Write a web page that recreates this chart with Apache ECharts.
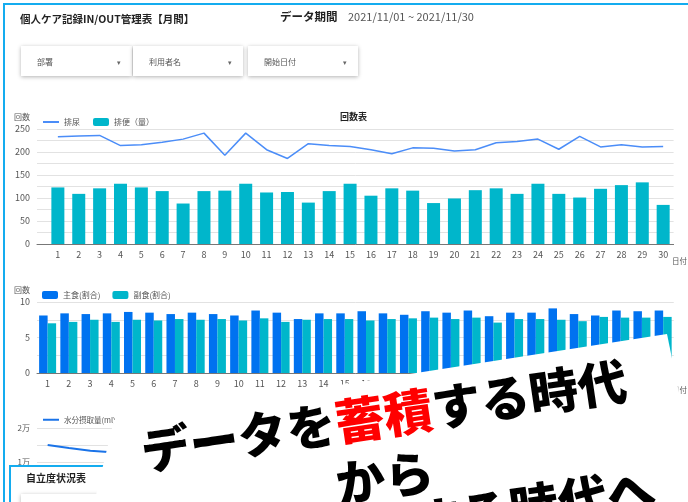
<!DOCTYPE html>
<html>
<head>
<meta charset="utf-8">
<script src="https://cdn.jsdelivr.net/npm/echarts@6/dist/echarts.min.js"></script>
<style>
  html, body { margin: 0; padding: 0; background: #fff; }
  #main { width: 688px; height: 502px; }
</style>
</head>
<body>
<div id="main"></div>
<script>
// 日付（1〜30日）
const days = ['1','2','3','4','5','6','7','8','9','10','11','12','13','14','15',
  '16','17','18','19','20','21','22','23','24','25','26','27','28','29','30'];
// 回数表
const urine = [233,235,236,214,216,221,228,241,193,241,205,186,218,214,212,
  205,196,209,208,202,205,220,223,228,206,234,211,216,211,212];
const stool = [123,109,121,131,123,115,88,115,116,131,112,113,90,115,131,
  105,121,116,89,99,117,121,109,131,109,101,120,128,134,85];
// 主食・副食（割合）
const mainFood = [8.1,8.4,8.3,8.4,8.6,8.5,8.3,8.5,8.3,8.1,8.8,8.5,7.6,8.4,8.4,
  8.7,8.4,8.2,8.7,8.5,8.8,8.0,8.5,8.5,9.1,8.3,8.1,8.8,8.7,8.8];
const sideFood = [7.0,7.2,7.5,7.2,7.5,7.4,7.6,7.5,7.6,7.4,7.7,7.2,7.5,7.6,7.6,
  7.4,7.6,7.7,7.8,7.6,7.8,7.1,7.6,7.6,7.5,7.3,7.9,7.8,7.8,7.9];
// 水分摂取量（見えている部分のみ）
const water = [15000,14100,13300,12900];

const FONT = '"Noto Sans CJK JP", "Noto Sans", sans-serif';
const BORDER = '#14acef';
const labelGray = '#555';

const chart = echarts.init(document.getElementById('main'));

// 日付を数値位置に（回数表は value 軸）
const pos = days.map(d => Number(d));

function txt(x, y, text, size, opts) {
  opts = opts || {};
  return {
    type: 'text', x: x, y: y, z: opts.z || 60,
    style: {
      text: text,
      font: (opts.weight || 'normal') + ' ' + size + 'px ' + FONT,
      fill: opts.color || '#222',
      textAlign: opts.align || 'left', align: opts.align || 'left',
      textVerticalAlign: 'middle', verticalAlign: 'middle'
    }
  };
}

function dropBox(x, w, label) {
  return [
    { type: 'rect', z: 40, shape: { x: x, y: 46, width: w, height: 30 },
      style: { fill: '#fff', shadowBlur: 4, shadowColor: 'rgba(0,0,0,0.3)', shadowOffsetY: 1 } },
    txt(x + 16, 62, label, 8, { color: '#555' }),
    txt(x + w - 15, 62, '▾', 7, { color: '#666' })
  ];
}

// 斜めの白いパネルとキャッチコピー
const ang = 8.4 * Math.PI / 180;
const big = 49;
function copy(u, v, text, color, align) {
  return {
    type: 'text', x: u, y: v, z: 102,
    style: {
      text: text,
      font: '900 ' + big + 'px "Noto Sans CJK JP"',
      fill: color,
      textAlign: align || 'left', align: align || 'left',
      textVerticalAlign: 'middle', verticalAlign: 'middle'
    }
  };
}
const paper = {
  type: 'polygon', z: 100,
  shape: { points: [[114, 420], [667, 334], [705, 520], [90, 520]] },
  style: { fill: '#fff' }
};
const slogan = {
  type: 'group', x: 96, y: 418, rotation: ang,
  children: [
    copy(40, 40, 'データを', '#000'),
    copy(40 + big * 4, 40, '蓄積', '#ff0000'),
    copy(40 + big * 6, 40, 'する時代', '#000'),
    copy(277, 101, 'から', '#000', 'center'),
    copy(543, 151, '活用する時代へ', '#000', 'right')
  ]
};

const graphics = [
  { type: 'rect', z: 90, shape: { x: 4, y: 4, width: 720, height: 540 },
    style: { fill: 'none', stroke: BORDER, lineWidth: 2 } },
  txt(20, 19, '個人ケア記録IN/OUT管理表【月間】', 10.5, { weight: 'bold' }),
  txt(280, 17, 'データ期間', 11.5, { weight: 'bold' }),
  txt(348, 17, '2021/11/01 ~ 2021/11/30', 11, { color: '#555' }),
  ...dropBox(21, 111, '部署'),
  ...dropBox(133, 110, '利用者名'),
  ...dropBox(248, 110, '開始日付'),
  txt(340, 117, '回数表', 9, { weight: 'bold' }),
  // 自立度状況表
  { type: 'rect', z: 50, shape: { x: 10, y: 466, width: 720, height: 80 },
    style: { fill: '#fff', stroke: BORDER, lineWidth: 2 } },
  txt(26, 478, '自立度状況表', 10, { weight: 'bold', z: 55 }),
  { type: 'rect', z: 52, shape: { x: 21, y: 494, width: 110, height: 30 },
    style: { fill: '#fff', shadowBlur: 4, shadowColor: 'rgba(0,0,0,0.3)', shadowOffsetY: 1 } },
  paper,
  slogan
];

const axisLabelStyle = { color: labelGray, fontSize: 9, fontFamily: FONT };
const yName = (name) => ({
  name: name, nameLocation: 'end', nameGap: 12,
  nameTextStyle: { align: 'right', verticalAlign: 'middle', padding: [0, 7, 0, 0], fontSize: 8, color: labelGray, fontFamily: FONT }
});
const xName = {
  name: '日付', nameLocation: 'end', nameGap: -5,
  nameTextStyle: { align: 'left', verticalAlign: 'top', padding: [13, 0, 0, 0], fontSize: 7.5, color: labelGray, fontFamily: FONT }
};
const split = { lineStyle: { color: '#e2e2e2', width: 1 } };
const legendText = { fontSize: 8, color: labelGray, fontFamily: FONT };
// 線の凡例は丸なし
const lineLegend = name => ({ name: name, itemStyle: { opacity: 0 } });

chart.setOption({
  animation: false,
  textStyle: { fontFamily: FONT },
  graphic: graphics,
  legend: [
    { data: [lineLegend('排尿'), '排便（量）'], left: 37, top: 113, itemWidth: 16, itemHeight: 8, itemGap: 13,
      textStyle: legendText },
    { data: ['主食(割合)', '副食(割合)'], left: 37, top: 286, itemWidth: 16, itemHeight: 8, itemGap: 12,
      textStyle: legendText },
    { data: [lineLegend('水分摂取量(ml)')], left: 37, top: 411, itemWidth: 16, itemHeight: 8,
      textStyle: Object.assign({}, legendText, { fontSize: 7.5 }) }
  ],
  grid: [
    { left: 37, right: 11, top: 129, bottom: 258 },
    { left: 37, right: 11, top: 302, bottom: 129 },
    { left: 37, right: 11, top: 428, bottom: 6 }
  ],
  xAxis: [
    Object.assign({ type: 'value', gridIndex: 0, min: 0, max: 30.5, interval: 1,
      axisLine: { show: true, onZero: false, lineStyle: { color: '#777' } }, axisTick: { show: false },
      splitLine: { show: false },
      axisLabel: Object.assign({ margin: 6, showMaxLabel: false,
        formatter: v => (v >= 1 && v % 1 === 0) ? String(v) : '' }, axisLabelStyle) }, xName),
    Object.assign({ type: 'category', gridIndex: 1, data: days,
      axisLine: { lineStyle: { color: '#777' } }, axisTick: { show: false },
      axisLabel: Object.assign({ margin: 6, interval: 0 }, axisLabelStyle) }, xName),
    { type: 'category', gridIndex: 2, data: days,
      axisLine: { show: false }, axisTick: { show: false }, axisLabel: { show: false } }
  ],
  yAxis: [
    Object.assign({ type: 'value', gridIndex: 0, min: 0, max: 250, interval: 25,
      axisLine: { show: false }, axisTick: { show: false }, splitLine: split,
      axisLabel: Object.assign({ margin: 7, formatter: v => v % 50 === 0 ? String(v) : '' }, axisLabelStyle) }, yName('回数')),
    Object.assign({ type: 'value', gridIndex: 1, min: 0, max: 10, interval: 2.5,
      axisLine: { show: false }, axisTick: { show: false }, splitLine: split,
      axisLabel: Object.assign({ margin: 7, formatter: v => v % 5 === 0 ? String(v) : '' }, axisLabelStyle) }, yName('回数')),
    { type: 'value', gridIndex: 2, min: 0, max: 20000, interval: 5000,
      axisLine: { show: false }, axisTick: { show: false }, splitLine: split,
      axisLabel: Object.assign({ margin: 7, formatter: v => v % 10000 === 0 && v > 0 ? (v / 10000) + '万' : '' }, axisLabelStyle, { fontSize: 8 }) }
  ],
  series: [
    { name: '排便（量）', type: 'bar', xAxisIndex: 0, yAxisIndex: 0, barWidth: 13,
      itemStyle: { color: '#00b6cb' }, data: stool.map((v, i) => [pos[i], v]) },
    { name: '排尿', type: 'line', xAxisIndex: 0, yAxisIndex: 0, symbol: 'none',
      lineStyle: { color: '#4b8df8', width: 1.5 }, itemStyle: { color: '#4b8df8' },
      data: urine.map((v, i) => [pos[i], v]) },
    { name: '主食(割合)', type: 'bar', xAxisIndex: 1, yAxisIndex: 1, barWidth: 8.5, barGap: '0%',
      itemStyle: { color: '#0072f0' }, data: mainFood },
    { name: '副食(割合)', type: 'bar', xAxisIndex: 1, yAxisIndex: 1, barWidth: 8.5, barGap: '0%',
      itemStyle: { color: '#00b6cb' }, data: sideFood },
    { name: '水分摂取量(ml)', type: 'line', xAxisIndex: 2, yAxisIndex: 2, symbol: 'none',
      lineStyle: { color: '#1a73e8', width: 2 }, itemStyle: { color: '#1a73e8' }, data: water }
  ]
});
</script>
</body>
</html>
